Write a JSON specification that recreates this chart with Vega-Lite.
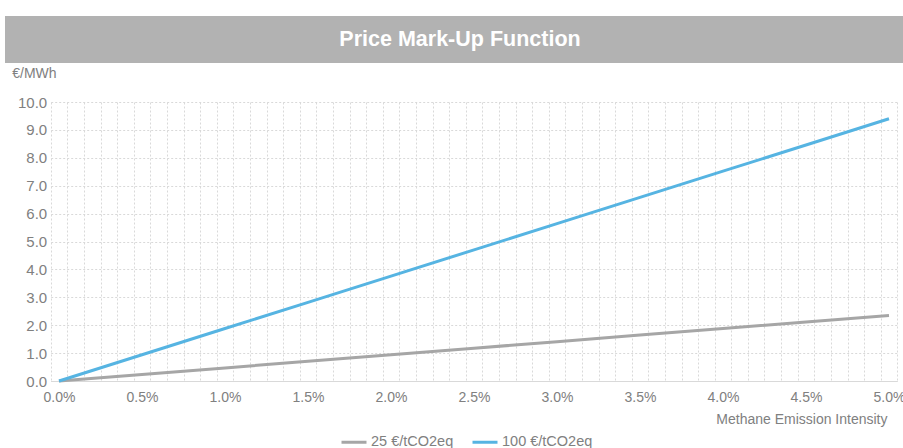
{
  "$schema": "https://vega.github.io/schema/vega-lite/v6.json",
  "padding": {"left": 5, "top": 16, "right": 0, "bottom": 0},
  "background": "white",
  "spacing": 39,
  "bounds": "flush",
  "config": {
    "font": "Liberation Sans",
    "view": {"stroke": null}
  },
  "datasets": {
    "header": [{"label": "Price Mark-Up Function"}],
    "series": [
      {"intensity": 0.0, "markup": 0.0, "price": "25 €/tCO2eq"},
      {"intensity": 0.5, "markup": 0.235, "price": "25 €/tCO2eq"},
      {"intensity": 1.0, "markup": 0.47, "price": "25 €/tCO2eq"},
      {"intensity": 1.5, "markup": 0.705, "price": "25 €/tCO2eq"},
      {"intensity": 2.0, "markup": 0.94, "price": "25 €/tCO2eq"},
      {"intensity": 2.5, "markup": 1.175, "price": "25 €/tCO2eq"},
      {"intensity": 3.0, "markup": 1.41, "price": "25 €/tCO2eq"},
      {"intensity": 3.5, "markup": 1.645, "price": "25 €/tCO2eq"},
      {"intensity": 4.0, "markup": 1.88, "price": "25 €/tCO2eq"},
      {"intensity": 4.5, "markup": 2.115, "price": "25 €/tCO2eq"},
      {"intensity": 5.0, "markup": 2.35, "price": "25 €/tCO2eq"},
      {"intensity": 0.0, "markup": 0.0, "price": "100 €/tCO2eq"},
      {"intensity": 0.5, "markup": 0.94, "price": "100 €/tCO2eq"},
      {"intensity": 1.0, "markup": 1.88, "price": "100 €/tCO2eq"},
      {"intensity": 1.5, "markup": 2.82, "price": "100 €/tCO2eq"},
      {"intensity": 2.0, "markup": 3.76, "price": "100 €/tCO2eq"},
      {"intensity": 2.5, "markup": 4.7, "price": "100 €/tCO2eq"},
      {"intensity": 3.0, "markup": 5.64, "price": "100 €/tCO2eq"},
      {"intensity": 3.5, "markup": 6.58, "price": "100 €/tCO2eq"},
      {"intensity": 4.0, "markup": 7.52, "price": "100 €/tCO2eq"},
      {"intensity": 4.5, "markup": 8.46, "price": "100 €/tCO2eq"},
      {"intensity": 5.0, "markup": 9.4, "price": "100 €/tCO2eq"}
    ]
  },
  "vconcat": [
    {
      "width": 898,
      "height": 47,
      "view": {"fill": "#b2b2b2", "stroke": null},
      "data": {"name": "header"},
      "mark": {"type": "text", "color": "white", "fontSize": 21.5, "fontWeight": "bold", "font": "Liberation Sans", "dx": 6, "baseline": "middle", "align": "center"},
      "encoding": {"text": {"field": "label"}}
    },
    {
      "width": 898,
      "height": 279,
      "data": {"name": "series"},
      "mark": {"type": "line", "strokeWidth": 3, "clip": false},
      "encoding": {
        "x": {
          "field": "intensity",
          "type": "quantitative",
          "scale": {"domain": [-0.05, 5.05], "nice": false, "zero": false, "range": [45.7, 892.3]},
          "axis": {
            "title": "Methane Emission Intensity",
            "titleFont": "Liberation Sans",
            "titleFontSize": 14,
            "titleFontWeight": "normal",
            "titleColor": "#808080",
            "titleAlign": "right",
            "titleAnchor": null,
            "titleBaseline": "middle",
            "titleX": 882,
            "titleY": 38,
            "values": [-0.05, 0, 0.05, 0.15, 0.25, 0.35, 0.45, 0.5, 0.55, 0.65, 0.75, 0.85, 0.95, 1.0, 1.05, 1.15, 1.25, 1.35, 1.45, 1.5, 1.55, 1.65, 1.75, 1.85, 1.95, 2.0, 2.05, 2.15, 2.25, 2.35, 2.45, 2.5, 2.55, 2.65, 2.75, 2.85, 2.95, 3.0, 3.05, 3.15, 3.25, 3.35, 3.45, 3.5, 3.55, 3.65, 3.75, 3.85, 3.95, 4.0, 4.05, 4.15, 4.25, 4.35, 4.45, 4.5, 4.55, 4.65, 4.75, 4.85, 4.95, 5.0, 5.05],
            "labelExpr": "abs(datum.value * 2 - round(datum.value * 2)) < 0.001 ? format(datum.value, '.1f') + '%' : ''",
            "labelOverlap": false,
            "labelFlush": false,
            "labelFontSize": 14,
            "labelColor": "#808080",
            "labelPadding": 9,
            "ticks": false,
            "domain": true,
            "domainColor": "#d9d9d9",
            "domainWidth": 1,
            "grid": true,
            "gridColor": "#d9d9d9",
            "gridDash": [2, 2],
            "gridWidth": 1,
            "gridOpacity": {"condition": {"test": "abs(datum.value * 10 - round(datum.value * 10)) > 0.01", "value": 1}, "value": 0}
          }
        },
        "y": {
          "field": "markup",
          "type": "quantitative",
          "scale": {"domain": [0, 10], "nice": false},
          "axis": {
            "offset": -45.7,
            "title": "€/MWh",
            "titleFont": "Liberation Sans",
            "titleFontSize": 14,
            "titleFontWeight": "normal",
            "titleColor": "#808080",
            "titleAngle": 0,
            "titleAlign": "left",
            "titleBaseline": "middle",
            "titleAnchor": null,
            "titleX": -39,
            "titleY": -29,
            "values": [0, 1, 2, 3, 4, 5, 6, 7, 8, 9, 10],
            "format": ".1f",
            "labelFontSize": 15,
            "labelColor": "#808080",
            "labelPadding": 4,
            "ticks": false,
            "domain": false,
            "grid": true,
            "gridColor": "#d9d9d9",
            "gridDash": [2, 2],
            "gridWidth": 1
          }
        },
        "color": {
          "field": "price",
          "type": "nominal",
          "sort": ["25 €/tCO2eq", "100 €/tCO2eq"],
          "scale": {"domain": ["25 €/tCO2eq", "100 €/tCO2eq"], "range": ["#a6a6a6", "#56b4e2"]},
          "legend": {
            "title": null,
            "orient": "none",
            "legendX": 335,
            "legendY": 412,
            "direction": "horizontal",
            "symbolType": "stroke",
            "symbolSize": 625,
            "symbolStrokeWidth": 3,
            "labelFontSize": 14.5,
            "labelColor": "#808080",
            "labelOffset": 3,
            "columnPadding": 12
          }
        }
      }
    }
  ]
}
